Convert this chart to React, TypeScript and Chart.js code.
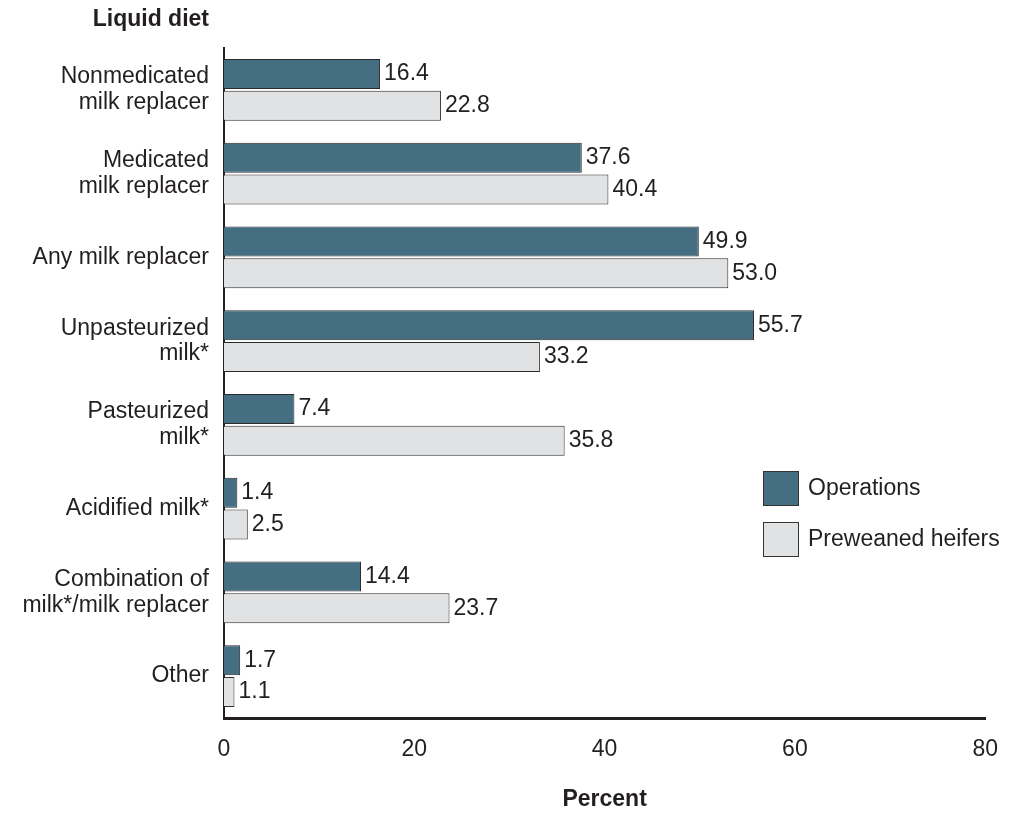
import React, { useEffect, useRef } from "react";
import { Chart, registerables } from "chart.js";

Chart.register(...registerables);

const categories: (string | string[])[] = [
  ["Nonmedicated", "milk replacer"],
  ["Medicated", "milk replacer"],
  "Any milk replacer",
  ["Unpasteurized", "milk*"],
  ["Pasteurized", "milk*"],
  "Acidified milk*",
  ["Combination of", "milk*/milk replacer"],
  "Other",
];
const operations = [16.4, 37.6, 49.9, 55.7, 7.4, 1.4, 14.4, 1.7];
const preweanedHeifers = [22.8, 40.4, 53.0, 33.2, 35.8, 2.5, 23.7, 1.1];
const seriesNames = ["Operations", "Preweaned heifers"];
const xTicks = [0, 20, 40, 60, 80];
const yTitle = "Liquid diet";
const xTitle = "Percent";

const TEXT = "#231f20";
const FONT = "'Liberation Sans', Arial, Helvetica, sans-serif";

const valueLabels = {
  id: "valueLabels",
  afterDatasetsDraw(chart: any) {
    const ctx = chart.ctx;
    ctx.save();
    ctx.font = `23px ${FONT}`;
    ctx.fillStyle = TEXT;
    ctx.textAlign = "left";
    ctx.textBaseline = "middle";
    chart.data.datasets.forEach((ds: any, di: number) => {
      const meta = chart.getDatasetMeta(di);
      meta.data.forEach((bar: any, i: number) => {
        ctx.fillText(Number(ds.data[i]).toFixed(1), bar.x + 4, bar.y);
      });
    });
    ctx.restore();
  },
};

const extras = {
  id: "extras",
  afterDraw(chart: any) {
    const ctx = chart.ctx;
    ctx.save();
    ctx.font = `bold 23px ${FONT}`;
    ctx.fillStyle = TEXT;
    ctx.textAlign = "right";
    ctx.textBaseline = "middle";
    ctx.fillText(yTitle, 209, 20);
    const boxX = 763;
    const boxes = [471, 522];
    chart.data.datasets.forEach((ds: any, i: number) => {
      ctx.fillStyle = ds.backgroundColor;
      ctx.fillRect(boxX, boxes[i], 35, 34);
      ctx.strokeStyle = "#333333";
      ctx.lineWidth = 1;
      ctx.strokeRect(boxX + 0.5, boxes[i] + 0.5, 35, 34);
      ctx.fillStyle = TEXT;
      ctx.font = `23px ${FONT}`;
      ctx.textAlign = "left";
      ctx.textBaseline = "middle";
      ctx.fillText(ds.label, 808, boxes[i] + 18);
    });
    ctx.restore();
  },
};

export default function App() {
  const ref = useRef<HTMLCanvasElement>(null);
  useEffect(() => {
    if (!ref.current) return;
    const chart = new Chart(ref.current, {
      type: "bar",
      data: {
        labels: categories,
        datasets: [
          {
            label: seriesNames[0],
            data: operations,
            backgroundColor: "#466e82",
            borderColor: "#2b2b2b",
            borderWidth: 1,
            categoryPercentage: 0.755,
            barPercentage: 0.95,
          },
          {
            label: seriesNames[1],
            data: preweanedHeifers,
            backgroundColor: "#e1e2e4",
            borderColor: "#2b2b2b",
            borderWidth: 1,
            categoryPercentage: 0.755,
            barPercentage: 0.95,
          },
        ],
      },
      options: {
        indexAxis: "y",
        animation: false,
        responsive: false,
        maintainAspectRatio: false,
        layout: { padding: { left: 0, top: 48, right: 26, bottom: 0 } },
        plugins: {
          legend: { display: false },
          tooltip: { enabled: false },
        },
        scales: {
          x: {
            min: 0,
            max: 80,
            afterBuildTicks: (scale: any) => {
              scale.ticks = xTicks.map((v) => ({ value: v }));
            },
            afterFit: (scale: any) => {
              scale.height = 95;
            },
            grid: { display: false, drawTicks: false },
            border: { display: true, color: TEXT, width: 3 },
            ticks: {
              color: TEXT,
              font: { family: FONT, size: 23 },
              padding: 18,
              maxRotation: 0,
            },
            title: {
              display: true,
              text: xTitle,
              color: TEXT,
              font: { family: FONT, size: 23, weight: "bold" },
              padding: { top: 0, bottom: 0 },
            },
          },
          y: {
            afterFit: (scale: any) => {
              scale.width = 224;
            },
            grid: { display: false, drawTicks: false },
            border: { display: true, color: TEXT, width: 2 },
            ticks: {
              color: TEXT,
              font: { family: FONT, size: 23, lineHeight: 1.12 },
              padding: 15,
              autoSkip: false,
            },
          },
        },
      },
      plugins: [valueLabels, extras],
    } as any);
    return () => chart.destroy();
  }, []);
  return (
    <div style={{ position: "fixed", left: 0, top: 0, width: 1016, height: 813, background: "#fff" }}>
      <canvas ref={ref} width={1016} height={813} style={{ display: "block" }} />
    </div>
  );
}
